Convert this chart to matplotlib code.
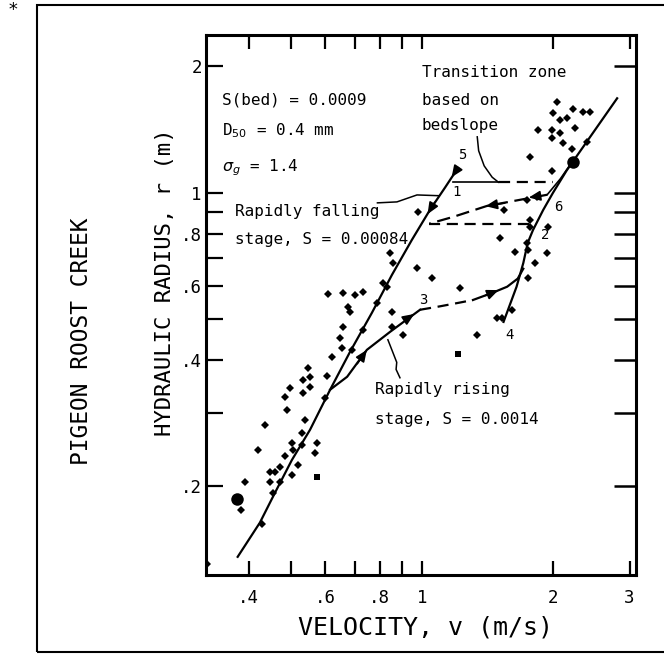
import matplotlib
matplotlib.use("Agg")
import matplotlib.pyplot as plt
from matplotlib.ticker import FixedLocator, FixedFormatter, NullLocator
from matplotlib.patches import Rectangle

plt.rcParams['font.family'] = ['DejaVu Sans Mono', 'DejaVu Sans']

# measured points (velocity m/s, hydraulic radius m)
pt_v = [0.321, 0.384, 0.392, 0.420, 0.429, 0.436, 0.447, 0.459, 0.447, 0.472,
        0.472, 0.454, 0.484, 0.484, 0.490, 0.497, 0.502, 0.505, 0.502, 0.519,
        0.530, 0.530, 0.532, 0.532, 0.547, 0.553, 0.553, 0.538, 0.568, 0.574,
        0.598, 0.605, 0.608, 0.621, 0.648, 0.655, 0.658, 0.658, 0.676, 0.683,
        0.690, 0.701, 0.732, 0.732, 0.788, 0.813, 0.831, 0.844, 0.858, 0.853,
        0.853, 0.904, 0.979, 0.974, 1.054, 1.22, 1.34, 1.49, 1.53, 1.61,
        1.51, 1.64, 1.74, 1.75, 1.94, 1.82, 1.75, 1.54, 1.74, 1.77,
        1.77, 1.84, 1.95, 2.04, 2.00, 2.08, 2.15, 2.22, 2.34, 2.43,
        1.85, 1.99, 2.08, 2.25, 1.99, 2.11, 2.21, 2.40, 1.77, 1.99]
pt_r = [0.131, 0.176, 0.205, 0.244, 0.163, 0.280, 0.216, 0.217, 0.205, 0.223,
        0.205, 0.193, 0.237, 0.327, 0.304, 0.343, 0.254, 0.244, 0.213, 0.225,
        0.268, 0.251, 0.359, 0.334, 0.383, 0.365, 0.345, 0.288, 0.240, 0.254,
        0.325, 0.367, 0.575, 0.407, 0.452, 0.428, 0.480, 0.578, 0.535, 0.521,
        0.423, 0.572, 0.581, 0.472, 0.547, 0.611, 0.597, 0.720, 0.681, 0.521,
        0.480, 0.459, 0.901, 0.663, 0.628, 0.594, 0.459, 0.504, 0.504, 0.526,
        0.781, 0.724, 0.760, 0.732, 0.720, 0.681, 0.628, 0.911, 0.962, 0.862,
        0.830, 0.978, 0.830, 1.647, 1.551, 1.49, 1.509, 1.58, 1.559, 1.559,
        1.41, 1.41, 1.39, 1.428, 1.352, 1.315, 1.27, 1.322, 1.218, 1.13]
sq_v = [0.574, 1.21]
sq_r = [0.211, 0.414]
big_v = [0.376, 2.22]
big_r = [0.187, 1.185]

# curves
steep_v = [0.377, 0.424, 0.459, 0.502, 0.553, 0.615, 0.683, 0.767, 0.853, 0.948, 1.043, 1.13, 1.21]
steep_r = [0.136, 0.164, 0.193, 0.231, 0.273, 0.340, 0.418, 0.518, 0.638, 0.773, 0.911, 1.03, 1.147]
rise_v = [0.615, 0.673, 0.747, 0.845, 0.99]
rise_r = [0.340, 0.365, 0.423, 0.467, 0.527]
rise_dash_v = [0.99, 1.10, 1.22, 1.31]
rise_dash_r = [0.527, 0.537, 0.548, 0.556]
rise2_v = [1.31, 1.45, 1.57, 1.66, 1.71]
rise2_r = [0.556, 0.578, 0.598, 0.625, 0.66]
upper_v = [1.54, 1.65, 1.71, 1.75, 1.80, 1.90, 2.00, 2.15, 2.81]
upper_r = [0.493, 0.598, 0.681, 0.76, 0.816, 0.911, 1.0, 1.13, 1.68]
fallb_v = [2.22, 2.08, 1.94]
fallb_r = [1.19, 1.08, 0.99]
fall_dash_v = [1.94, 1.41, 1.18, 1.04]
fall_dash_r = [0.99, 0.931, 0.877, 0.845]
top_zone_r = 1.062
bot_zone_r = 0.845

xticks = [0.4, 0.5, 0.6, 0.7, 0.8, 0.9, 1, 2, 3]
xlabels = ['.4', '', '.6', '', '.8', '', '1', '2', '3']
yticks = [0.2, 0.3, 0.4, 0.5, 0.6, 0.7, 0.8, 0.9, 1, 2]
ylabels = ['.2', '', '.4', '', '.6', '', '.8', '', '1', '2']

fig = plt.figure(figsize=(6.64, 6.57), dpi=100)
W, H = 664, 657
ax = fig.add_axes([206 / W, 1 - 575 / H, 430 / W, 540 / H])
ax.set_xscale('log')
ax.set_yscale('log')
ax.set_xlim(0.3188, 3.105)
ax.set_ylim(0.1231, 2.377)

ax.plot(pt_v, pt_r, 'D', color='k', ms=4.2, mew=0)
ax.plot(sq_v, sq_r, 's', color='k', ms=5, mew=0)
ax.plot(big_v, big_r, 'o', color='k', ms=9, mew=0)

lw = 1.6
ax.plot(steep_v, steep_r, '-', color='k', lw=lw)
ax.plot(rise_v, rise_r, '-', color='k', lw=lw)
ax.plot(rise_dash_v, rise_dash_r, '--', color='k', lw=lw, dashes=(5, 3))
ax.plot(rise2_v, rise2_r, '-', color='k', lw=lw)
ax.plot(upper_v, upper_r, '-', color='k', lw=lw)
ax.plot(fallb_v, fallb_r, '-', color='k', lw=1.2)
ax.plot(fall_dash_v, fall_dash_r, '--', color='k', lw=lw, dashes=(6, 3))
ax.plot([1.18, 1.50], [top_zone_r, top_zone_r], '-', color='k', lw=1.2)
ax.plot([1.50, 2.0], [top_zone_r, top_zone_r], '--', color='k', lw=lw, dashes=(5, 3))
ax.plot([1.04, 1.77], [bot_zone_r, bot_zone_r], '--', color='k', lw=lw, dashes=(5, 3))

# leader lines
ax.plot([1.34, 1.35, 1.39, 1.45, 1.50], [1.36, 1.26, 1.16, 1.09, 1.06], '-', color='k', lw=1.1)
ax.plot([0.79, 0.876, 0.974, 1.09], [0.947, 0.952, 0.989, 0.985], '-', color='k', lw=1.1)
ax.plot([0.835, 0.855, 0.875, 0.872, 0.89], [0.447, 0.42, 0.395, 0.38, 0.363], '-', color='k', lw=1.1)


def arrowhead(x0, y0, x1, y1):
    ax.annotate('', xy=(x1, y1), xytext=(x0, y0),
                arrowprops=dict(arrowstyle='-|>,head_length=0.7,head_width=0.3',
                                color='k', lw=1.2, shrinkA=0, shrinkB=0))


arrowhead(0.71, 0.392, 0.747, 0.423)
arrowhead(0.92, 0.50, 0.96, 0.515)
arrowhead(1.40, 0.570, 1.50, 0.587)
arrowhead(1.21, 1.147, 1.17, 1.09)
arrowhead(1.07, 0.95, 1.03, 0.89)
arrowhead(1.55, 0.946, 1.40, 0.930)
arrowhead(1.88, 0.985, 1.76, 0.975)

fs = 11.5
ax.text(0.347, 1.66, 'S(bed) = 0.0009', fontsize=fs, va='center')
ax.text(0.347, 1.41, 'D$_{50}$ = 0.4 mm', fontsize=fs, va='center')
ax.text(0.347, 1.147, '$\\sigma_g$ = 1.4', fontsize=fs, va='center')
ax.text(0.372, 0.901, 'Rapidly falling', fontsize=fs, va='center')
ax.text(0.372, 0.773, 'stage, S = 0.00084', fontsize=fs, va='center')
ax.text(1.0, 1.93, 'Transition zone', fontsize=fs, va='center')
ax.text(1.0, 1.66, 'based on', fontsize=fs, va='center')
ax.text(1.0, 1.45, 'bedslope', fontsize=fs, va='center')
ax.text(0.78, 0.340, 'Rapidly rising', fontsize=fs, va='center')
ax.text(0.78, 0.288, 'stage, S = 0.0014', fontsize=fs, va='center')

nfs = 10
ax.text(1.24, 1.23, '5', fontsize=nfs, ha='center', va='center')
ax.text(1.20, 1.005, '1', fontsize=nfs, ha='center', va='center')
ax.text(2.06, 0.926, '6', fontsize=nfs, ha='center', va='center')
ax.text(1.92, 0.794, '2', fontsize=nfs, ha='center', va='center')
ax.text(1.005, 0.556, '3', fontsize=nfs, ha='center', va='center')
ax.text(1.59, 0.459, '4', fontsize=nfs, ha='center', va='center')

for s in ax.spines.values():
    s.set_linewidth(2.2)

ax.xaxis.set_major_locator(FixedLocator(xticks))
ax.xaxis.set_major_formatter(FixedFormatter(xlabels))
ax.xaxis.set_minor_locator(NullLocator())
ax.yaxis.set_major_locator(FixedLocator(yticks))
ax.yaxis.set_major_formatter(FixedFormatter(ylabels))
ax.yaxis.set_minor_locator(NullLocator())
ax.tick_params(axis='x', direction='in', length=10, width=1.6, top=True,
               labelsize=12.5, pad=10)
ax.tick_params(axis='y', direction='in', length=12, width=1.6, right=False,
               labelsize=12.5, pad=3)

ax2 = ax.twinx()
ax2.set_yscale('log')
ax2.set_ylim(ax.get_ylim())
ax2.yaxis.set_major_locator(FixedLocator(yticks))
ax2.yaxis.set_minor_locator(NullLocator())
ax2.tick_params(axis='y', direction='in', length=16, width=1.8, labelright=False)
for s in ax2.spines.values():
    s.set_visible(False)

fig.text(426 / W, 1 - 628 / H, 'VELOCITY, v (m/s)', fontsize=18, ha='center', va='center')
fig.text(165 / W, 1 - 282 / H, 'HYDRAULIC RADIUS, r (m)', fontsize=16,
         rotation=90, ha='center', va='center')
fig.text(82 / W, 1 - 341 / H, 'PIGEON ROOST CREEK', fontsize=16.5,
         rotation=90, ha='center', va='center')
fig.text(13 / W, 1 - 10 / H, '*', fontsize=13, ha='center', va='center')

fig.patches.append(Rectangle((37 / W, 1 - 652 / H), 1.2, 647 / H, transform=fig.transFigure,
                             fill=False, edgecolor='k', lw=1.5, figure=fig))

fig.savefig('out.png', dpi=100)
